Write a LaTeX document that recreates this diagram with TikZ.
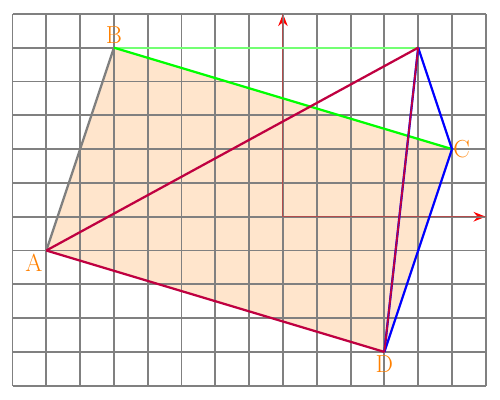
\documentclass[tikz,border=0pt]{standalone}
\usetikzlibrary{arrows.meta}

\begin{document}
\begin{tikzpicture}[
        x=1cm, y=1cm,
        gridline/.style={gray, line width=1.6pt},
        axis/.style={-{Stealth[length=3.6mm, width=2.8mm]}, red, line width=1.9pt},
        side/.style={line width=1.9pt},
        lbl/.style={text=orange, font=\huge}
    ]
    \useasboundingbox (-8.37,-5.42) rectangle (6.42,6.41);

    % --- Points ---
    \coordinate (A) at (-7,-1);
    \coordinate (B) at (-5,5);
    \coordinate (C) at (5,2);
    \coordinate (D) at (3,-4);
    \coordinate (E) at (4,5);
    \coordinate (O) at (0,0);
    \coordinate (X) at (6,0);
    \coordinate (Y) at (0,6);

    % --- Quadrilateral ---
    \fill[orange!20] (A) -- (B) -- (C) -- (D) -- cycle;

    % --- Axes and grid ---
    \draw[axis] (O) -- (X);
    \draw[axis] (O) -- (Y);
    \draw[gridline] (-8,-5) grid (6,6);
    \draw[red, opacity=.4, line width=.8pt] (X) -- (O) -- (Y);

    % --- Sides ---
    \draw[side, gray] (A) -- (B);
    \draw[side, green!55, line width=1.5pt] (B) -- (E);
    \draw[side, green] (B) -- (C);
    \draw[side, blue] (E) -- (C);
    \draw[side, blue] (C) -- (D);
    \draw[side, blue] (E) -- (D);
    \draw[side, purple] (A) -- (E);
    \draw[side, purple, line width=1.5pt] (E) -- (D);
    \draw[side, purple] (A) -- (D);

    % --- Labels ---
    \node[lbl, below left, inner sep=3pt] (labA) at (A) {A};
    \node[lbl, above, inner sep=3pt] (labB) at (B) {B};
    \node[lbl, right, inner sep=1pt] (labC) at (C) {C};
    \node[lbl, below, inner sep=3pt] (labD) at (D) {D};

\end{tikzpicture}
\end{document}
